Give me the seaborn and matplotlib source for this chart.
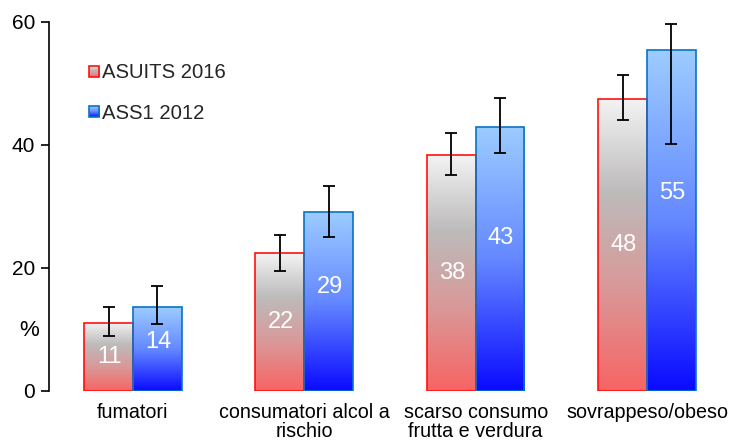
import numpy as np
import pandas as pd
import matplotlib
matplotlib.use("Agg")
import matplotlib.pyplot as plt
import seaborn as sns
from matplotlib.colors import LinearSegmentedColormap
from matplotlib.legend_handler import HandlerBase
from matplotlib.image import BboxImage
from matplotlib.transforms import Bbox, TransformedBbox
from matplotlib.patches import Rectangle

# ---- data ----
categories = ["fumatori", "consumatori alcol a\nrischio", "scarso consumo\nfrutta e verdura", "sovrappeso/obeso"]
series = ["ASUITS 2016", "ASS1 2012"]
asuits_2016 = [11.1, 22.4, 38.4, 47.5]
ass1_2012 = [13.6, 29.1, 42.9, 55.4]
asuits_low = [9.0, 19.5, 35.1, 44.1]
asuits_high = [13.7, 25.4, 42.0, 51.4]
ass1_low = [10.9, 25.0, 38.7, 40.2]
ass1_high = [17.1, 33.3, 47.6, 59.7]
y_ticks = [0, 20, 40, 60]

sns.set_theme(style="white")
plt.rcParams['font.family'] = ['Liberation Sans', 'DejaVu Sans']

df = pd.DataFrame({
    "cat": categories * 2,
    "serie": [series[0]] * 4 + [series[1]] * 4,
    "val": asuits_2016 + ass1_2012,
})

red_cmap = LinearSegmentedColormap.from_list("r", [(0, "#F86464"), (0.35, "#DA9898"), (0.68, "#BDBBBB"), (1, "#F4F4F4")])
blue_cmap = LinearSegmentedColormap.from_list("b", [(0, "#0A0AFF"), (0.5, "#6488FF"), (1, "#9CCCFF")])
edges = ["#FF1010", "#0A72C6"]
cmaps = [red_cmap, blue_cmap]

fig = plt.figure(figsize=(7.33, 4.42), dpi=100)
ax = fig.add_axes([0.0668, 0.1154, 0.9304, 0.835])

sns.barplot(data=df, x="cat", y="val", hue="serie", hue_order=series, order=categories,
            width=0.57, gap=0, errorbar=None, ax=ax, legend=False,
            palette=["#F08080", "#5A82FF"])

grad = np.linspace(0, 1, 256).reshape(-1, 1)
patches = list(ax.patches)
vals_all = [asuits_2016, ass1_2012]
lows = [asuits_low, ass1_low]
highs = [asuits_high, ass1_high]
for si in range(2):
    for ci in range(4):
        p = patches[si * 4 + ci]
        x, w, h = p.get_x(), p.get_width(), p.get_height()
        p.set_facecolor("none")
        p.set_edgecolor(edges[si])
        p.set_linewidth(1.2)
        p.set_zorder(3)
        im = ax.imshow(grad, cmap=cmaps[si], extent=[x, x + w, 0, h], origin="lower",
                       aspect="auto", zorder=2, interpolation="bicubic")
        im.set_clip_path(p)
        v = vals_all[si][ci]
        yl = v * (0.5 if si == 0 else 0.58)
        ax.text(x + w / 2 + 0.005, yl, f"{v:.0f}", color="white", ha="center", va="center",
                fontsize=17, zorder=5)
        ax.errorbar(x + w / 2, v, yerr=[[v - lows[si][ci]], [highs[si][ci] - v]],
                    fmt="none", ecolor="black", elinewidth=1.3, capsize=4.3, capthick=1.3, zorder=6)

ax.set_xlim(-0.49, 3.49)
ax.set_ylim(0, 60)
ax.set_yticks(y_ticks)
ax.tick_params(axis="y", which="both", left=True, length=6, width=1.2, labelsize=15, pad=4, color="black", labelcolor="black")
ax.tick_params(axis="x", bottom=False, labelsize=14.2, pad=3, labelcolor="black")
for lbl in ax.get_xticklabels():
    lbl.set_linespacing(1.0)
for s in ["top", "right", "bottom"]:
    ax.spines[s].set_visible(False)
ax.spines["left"].set_color("black")
ax.spines["left"].set_linewidth(1.2)
ax.set_xlabel("")
ax.set_ylabel("%", rotation=0, fontsize=16, color="black", va="center", ha="center")
ax.yaxis.set_label_coords(-0.029, 0.163)


class GradHandler(HandlerBase):
    def __init__(self, cmap, edge):
        super().__init__()
        self.cmap = cmap
        self.edge = edge

    def create_artists(self, legend, orig_handle, xdescent, ydescent, width, height, fontsize, trans):
        s = 7.6
        x0 = -xdescent + (width - s) / 2
        y0 = -ydescent + (height - s) / 2
        bb = TransformedBbox(Bbox.from_bounds(x0, y0, s, s), trans)
        img = BboxImage(bb, cmap=self.cmap, origin="lower", interpolation="bicubic")
        img.set_data(grad)
        rect = Rectangle((x0, y0), s, s, facecolor="none", edgecolor=self.edge, linewidth=1.2, transform=trans)
        return [img, rect]


h1 = Rectangle((0, 0), 1, 1)
h2 = Rectangle((0, 1), 1, 1)
leg = ax.legend([h1, h2], series, loc="upper left", bbox_to_anchor=(0.043, 0.915),
                frameon=False, fontsize=14.6, handlelength=0.55, handletextpad=0.12,
                labelspacing=1.05, borderpad=0,
                handler_map={h1: GradHandler(red_cmap, edges[0]), h2: GradHandler(blue_cmap, edges[1])})

fig.savefig("out.png", dpi=100)
